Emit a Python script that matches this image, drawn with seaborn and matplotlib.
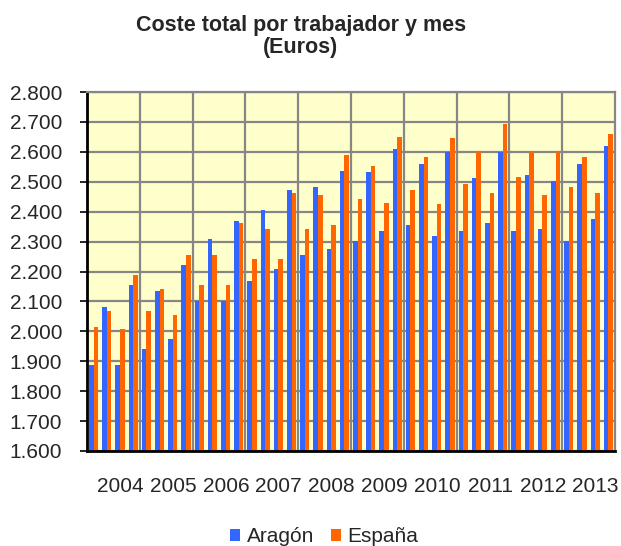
import pandas as pd
import seaborn as sns
import matplotlib.pyplot as plt
import matplotlib.transforms as mtransforms

# quarterly data 2004-2013 (4 quarters per year)
years = ['2004', '2005', '2006', '2007', '2008', '2009', '2010', '2011',
         '2012', '2013']
aragon = [1888, 2082, 1888, 2156,
          1942, 2136, 1975, 2223,
          2102, 2310, 2102, 2370,
          2169, 2404, 2209, 2471,
          2256, 2484, 2276, 2537,
          2303, 2531, 2337, 2611,
          2357, 2558, 2317, 2598,
          2337, 2511, 2363, 2598,
          2337, 2524, 2343, 2504,
          2303, 2558, 2377, 2618]
espana = [2015, 2069, 2008, 2189,
          2069, 2142, 2055, 2256,
          2156, 2256, 2156, 2363,
          2243, 2343, 2243, 2464,
          2343, 2457, 2357, 2591,
          2444, 2551, 2430, 2651,
          2471, 2584, 2424, 2645,
          2491, 2604, 2464, 2692,
          2517, 2598, 2457, 2604,
          2484, 2584, 2464, 2658]
ytick_values = [1600, 1700, 1800, 1900, 2000, 2100, 2200, 2300, 2400, 2500,
                2600, 2700, 2800]
ytick_labels = ['1.600', '1.700', '1.800', '1.900', '2.000', '2.100',
                '2.200', '2.300', '2.400', '2.500', '2.600', '2.700', '2.800']

quarters = [y + 'T' + str(q) for y in years for q in range(1, 5)]
df = pd.DataFrame({
    'trimestre': quarters * 2,
    'coste': aragon + espana,
    'serie': ['Aragón'] * len(aragon) + ['España'] * len(espana),
})

sns.set_style('white')
plt.rcParams['font.family'] = ['Liberation Sans', 'DejaVu Sans']

fig = plt.figure(figsize=(6.21, 5.46), dpi=100)
ax = fig.add_axes([87 / 621, 95 / 546, 528 / 621, 359 / 546])
ax.set_facecolor('#FFFFCC')

sns.barplot(data=df, x='trimestre', y='coste', hue='serie', order=quarters,
            palette={'Aragón': '#3366FF', 'España': '#FF6600'},
            width=0.7, saturation=1, linewidth=0, ax=ax)

ax.set_ylim(1600, 2800)
ax.set_xlim(-0.5, len(quarters) - 0.5)
ax.set_yticks(ytick_values)
ax.set_yticklabels(ytick_labels, fontsize=15)
ax.set_xticks([1.5 + 4 * i for i in range(len(years))])
ax.set_xticklabels(years, fontsize=15)
ax.set_xticks([-0.5 + 4 * i for i in range(1, len(years))], minor=True)
ax.set_xlabel('')
ax.set_ylabel('')

ax.tick_params(axis='x', which='both', length=0, pad=19)
ax.tick_params(axis='y', length=5, width=1.2, color='black', pad=13,
               direction='out', left=True)

ax.set_axisbelow(True)
ax.yaxis.grid(True, color='#868686', linewidth=1.6)
ax.xaxis.grid(True, which='minor', color='#868686', linewidth=1.6)
ax.xaxis.grid(False, which='major')

for side in ['top', 'right']:
    ax.spines[side].set_color('#868686')
    ax.spines[side].set_linewidth(1.6)
for side in ['left', 'bottom']:
    ax.spines[side].set_color('black')
    ax.spines[side].set_linewidth(2.0)

# year labels sit a bit right of the year centre
offset = mtransforms.ScaledTranslation(7 / 100, 0, fig.dpi_scale_trans)
for label in ax.get_xticklabels():
    label.set_transform(label.get_transform() + offset)

handles, labels = ax.get_legend_handles_labels()
ax.get_legend().remove()
fig.legend(handles, labels, loc='center', bbox_to_anchor=(324 / 621, 9 / 546),
           ncol=2, frameon=False, fontsize=15, handlelength=0.5,
           handleheight=0.5, handletextpad=0.3, columnspacing=0.8)

fig.text(301 / 621, 1 - 36.5 / 546, 'Coste total por trabajador y mes\n(Euros)',
         ha='center', va='center', fontsize=15.5, fontweight='bold',
         linespacing=1.1)

plt.savefig('out.png', dpi=100)
